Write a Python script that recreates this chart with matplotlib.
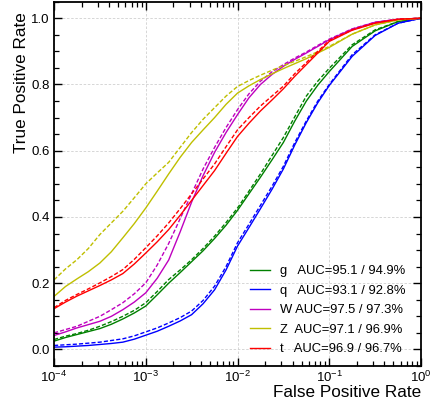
import numpy as np
import matplotlib
matplotlib.use("Agg")
import matplotlib.pyplot as plt
from matplotlib.ticker import LogLocator, MultipleLocator, NullFormatter

plt.rcParams['font.family'] = ['Liberation Sans', 'DejaVu Sans']
plt.rcParams['mathtext.fontset'] = 'custom'
plt.rcParams['mathtext.rm'] = 'Liberation Sans'
plt.rcParams['mathtext.it'] = 'Liberation Sans:italic'
plt.rcParams['mathtext.bf'] = 'Liberation Sans:bold'

# log10(false positive rate) sample points
log_fpr = [-4.0, -3.875, -3.75, -3.625, -3.5, -3.375, -3.25, -3.125, -3.0,
           -2.875, -2.75, -2.625, -2.5, -2.375, -2.25, -2.125, -2.0,
           -1.875, -1.75, -1.625, -1.5, -1.375, -1.25, -1.125, -1.0,
           -0.75, -0.5, -0.25, 0.0]

classes = ["g", "q", "W", "Z", "t"]
colors = ["g", "b", "m", "y", "r"]
auc_solid = [95.1, 93.1, 97.5, 97.1, 96.9]
auc_dashed = [94.9, 92.8, 97.3, 96.9, 96.7]
label_pad = ["g   ", "q   ", "W ", "Z  ", "t   "]

tpr_solid = {
    "g": [.025, .036, .045, .054, .063, .076, .092, .110, .131,
          .165, .200, .232, .265, .298, .335, .375, .420,
          .470, .520, .572, .625, .690, .750, .798, .839,
          .915, .962, .990, 1.0],
    "q": [.007, .008, .010, .012, .015, .018, .022, .031, .043,
          .055, .070, .086, .105, .138, .180, .240, .312,
          .368, .425, .483, .545, .618, .685, .745, .797,
          .885, .948, .985, 1.0],
    "W": [.042, .053, .065, .075, .085, .100, .120, .143, .171,
          .215, .270, .355, .445, .525, .595, .655, .709,
          .760, .800, .830, .855, .876, .895, .915, .935,
          .967, .988, .997, 1.0],
    "Z": [.160, .190, .213, .235, .261, .295, .337, .380, .427,
          .478, .530, .580, .625, .663, .700, .740, .774,
          .796, .815, .832, .848, .863, .878, .895, .912,
          .952, .980, .995, 1.0],
    "t": [.123, .143, .161, .177, .193, .210, .229, .258, .291,
          .325, .362, .405, .450, .495, .540, .592, .643,
          .683, .720, .753, .787, .825, .860, .895, .930,
          .964, .985, .997, 1.0],
}
tpr_dashed = {
    "g": [.030, .040, .048, .058, .070, .084, .100, .118, .141,
          .175, .211, .240, .271, .305, .342, .383, .427,
          .478, .530, .585, .640, .703, .765, .810, .849,
          .920, .965, .990, 1.0],
    "q": [.012, .014, .016, .019, .022, .027, .032, .041, .053,
          .065, .080, .096, .116, .148, .191, .250, .322,
          .378, .435, .492, .553, .625, .690, .750, .800,
          .890, .950, .985, 1.0],
    "W": [.050, .060, .070, .085, .100, .120, .141, .168, .201,
          .255, .320, .395, .470, .545, .610, .670, .724,
          .772, .810, .838, .860, .880, .898, .918, .937,
          .968, .988, .997, 1.0],
    "Z": [.210, .243, .271, .305, .347, .382, .417, .458, .500,
          .533, .565, .610, .655, .695, .730, .765, .794,
          .812, .828, .843, .857, .870, .884, .899, .915,
          .952, .980, .995, 1.0],
    "t": [.126, .148, .166, .183, .201, .220, .241, .272, .307,
          .343, .382, .425, .470, .515, .560, .612, .663,
          .700, .735, .765, .795, .833, .866, .900, .933,
          .965, .986, .997, 1.0],
}

fig = plt.figure(figsize=(4.33, 4.09), dpi=100)
ax = fig.add_axes([54/433, 1 - 366/409, 367/433, 364.3/409])

fpr = [10**v for v in log_fpr]
for c, col, pad, a1, a2 in zip(classes, colors, label_pad, auc_solid, auc_dashed):
    ax.plot(fpr, tpr_solid[c], color=col, lw=1.0,
            label=f"{pad}AUC={a1:.1f} / {a2:.1f}%")
    ax.plot(fpr, tpr_dashed[c], color=col, lw=1.0, ls=(0, (3, 1.5)))

ax.set_xscale('log')
ax.set_xlim(1e-4, 1)
ax.set_ylim(-0.05, 1.05)
ax.xaxis.set_major_locator(LogLocator(base=10, numticks=10))
ax.xaxis.set_minor_locator(LogLocator(base=10, subs=np.arange(2, 10), numticks=20))
ax.xaxis.set_minor_formatter(NullFormatter())
ax.yaxis.set_major_locator(MultipleLocator(0.2))
ax.yaxis.set_minor_locator(MultipleLocator(0.05))
ax.yaxis.set_major_formatter(plt.FuncFormatter(lambda v, p: f"{v:.1f}"))

ax.tick_params(which='both', direction='in', top=True, right=True, labelsize=9.5)
ax.tick_params(which='major', length=5.8, width=1.0)
ax.tick_params(which='minor', length=3.6, width=0.9)
ax.tick_params(axis='x', pad=3)
ax.tick_params(axis='y', pad=3)
for s in ax.spines.values():
    s.set_linewidth(1.3)

ax.grid(True, which='major', ls=(0, (3, 2)), color='#d0d0d0', lw=0.6)

ax.set_xlabel("False Positive Rate", fontsize=12.3, ha='right')
ax.xaxis.set_label_coords(1.0, -0.051)
ax.set_ylabel("True Positive Rate", fontsize=12.3, ha='right')
ax.yaxis.set_label_coords(-0.069, 0.972)

ax.legend(loc='lower left', bbox_to_anchor=(0.534, 0.030), frameon=False,
          fontsize=9.4, borderpad=0, handlelength=1.53, handletextpad=0.77,
          labelspacing=0.56, borderaxespad=0)

fig.savefig("out.png", dpi=100)
